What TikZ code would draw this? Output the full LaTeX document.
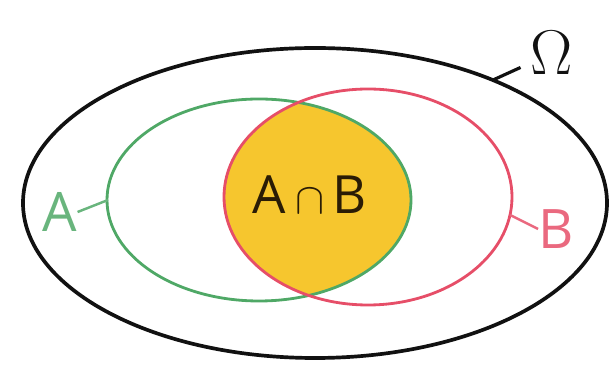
\documentclass[tikz,border=0pt]{standalone}
\usepackage{fontspec}
\setsansfont{Open Sans}
\usetikzlibrary{calc}
\definecolor{vnInk}{HTML}{111111}
\definecolor{vnGreen}{HTML}{4FA866}
\definecolor{vnRed}{HTML}{E64E68}
\definecolor{vnFill}{HTML}{F6C62E}
\definecolor{vnText}{HTML}{2A1C05}
\tikzset{
  omegaline/.style={draw=vnInk,line width=2.1pt},
  setA/.style={draw=vnGreen,line width=1.6pt},
  setB/.style={draw=vnRed,line width=1.6pt},
  tickO/.style={draw=vnInk,line width=1.8pt},
  tickA/.style={draw=vnGreen!85!white,line width=1.4pt},
  tickB/.style={draw=vnRed!85!white,line width=1.4pt},
  lbl/.style={font=\sffamily\fontsize{31}{31}\selectfont,inner sep=0pt},
  omegalbl/.style={font=\rmfamily\fontsize{36}{36}\selectfont,inner sep=0pt},
  caplbl/.style={font=\sffamily\fontsize{30}{30}\selectfont,text=vnText,inner sep=0pt},
}
\begin{document}
\begin{tikzpicture}[x=0.02cm,y=-0.02cm]
  \useasboundingbox (0,0) rectangle (615,367);
  \coordinate (cO) at (315,203);
  \coordinate (cA) at (259,200);
  \coordinate (cB) at (368,197);

  % A and B overlap
  \begin{scope}
    \clip (cA) ellipse [x radius=152,y radius=101];
    \fill[vnFill] (cB) ellipse [x radius=144,y radius=108];
  \end{scope}

  \draw[omegaline] (cO) ellipse [x radius=292,y radius=155];
  \draw[setA] (cA) ellipse [x radius=152,y radius=101];
  \draw[setB] (cB) ellipse [x radius=144,y radius=108];

  \node[caplbl] (AcapB) at (310,195) {A\,$\cap$\,B};

  \node[omegalbl,text=vnInk] (omega) at (552,52) {Ω};
  \node[lbl,text=vnGreen!85!white] (labA) at (60,212) {A};
  \node[lbl,text=vnRed!85!white] (labB) at (556,229) {B};

  \coordinate (onO) at (493,80);
  \coordinate (onA) at (108,200);
  \coordinate (onB) at (510,215);
  \draw[tickO] (onO) -- ($(omega.south west)+(-10,-7)$);
  \draw[tickA] (onA) -- (labA.east);
  \draw[tickB] (onB) -- (labB.west);
\end{tikzpicture}
\end{document}
